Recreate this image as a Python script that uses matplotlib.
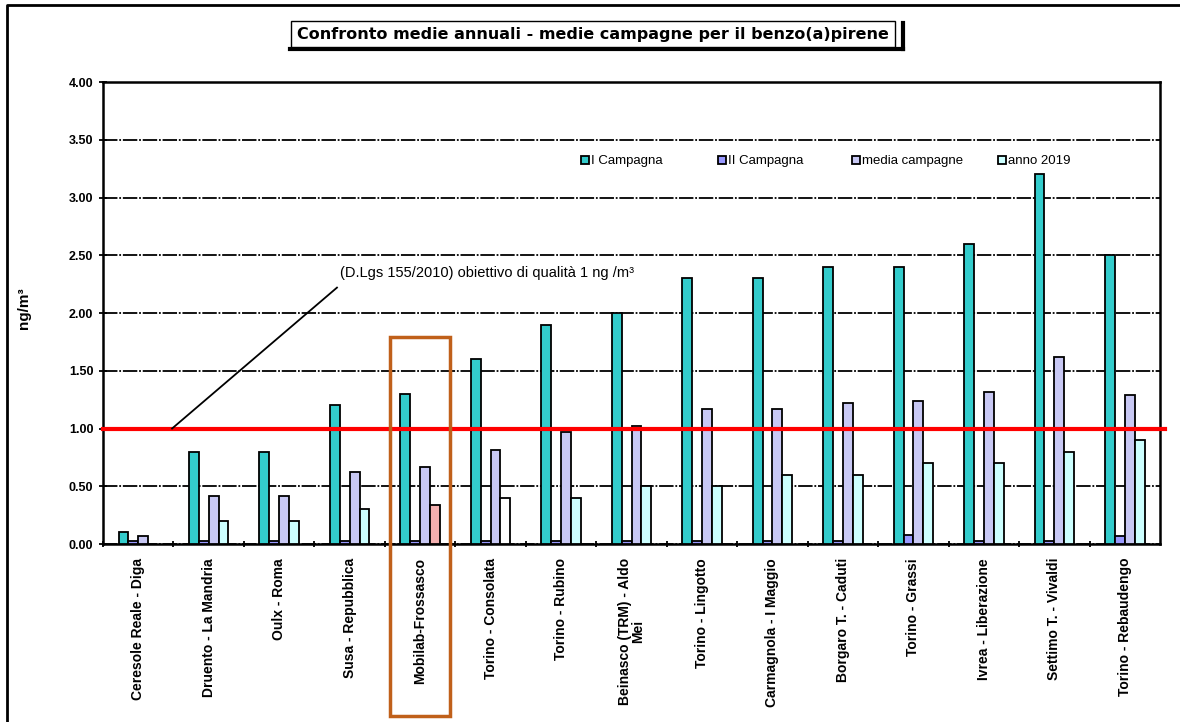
import numpy as np
import matplotlib
matplotlib.use('Agg')
import matplotlib.pyplot as plt
from matplotlib.patches import Rectangle, Patch
from matplotlib.lines import Line2D
from matplotlib.legend import Legend

plt.rcParams['font.family'] = ['Liberation Sans', 'DejaVu Sans']

# stazioni e valori (ng/m3)
stazioni = ['Ceresole Reale - Diga', 'Druento - La Mandria', 'Oulx - Roma', 'Susa - Repubblica',
            'Mobilab-Frossasco', 'Torino - Consolata', 'Torino - Rubino',
            'Beinasco (TRM) - Aldo\nMei', 'Torino - Lingotto', 'Carmagnola - I Maggio',
            'Borgaro T. - Caduti', 'Torino - Grassi', 'Ivrea - Liberazione',
            'Settimo T. - Vivaldi', 'Torino - Rebaudengo']
camp1 = [0.10, 0.80, 0.80, 1.20, 1.30, 1.60, 1.90, 2.00, 2.30, 2.30, 2.40, 2.40, 2.60, 3.20, 2.50]
camp2 = [0.03, 0.03, 0.03, 0.03, 0.03, 0.03, 0.03, 0.03, 0.03, 0.03, 0.03, 0.08, 0.03, 0.03, 0.07]
media = [0.07, 0.42, 0.42, 0.62, 0.67, 0.81, 0.97, 1.02, 1.17, 1.17, 1.22, 1.24, 1.32, 1.62, 1.29]
anno2019 = [np.nan, 0.20, 0.20, 0.30, 0.34, 0.40, 0.40, 0.50, 0.50, 0.60, 0.60, 0.70, 0.70, 0.80, 0.90]
serie = ['I Campagna', 'II Campagna', 'media campagne', 'anno 2019']
colori = ['#33CCCC', '#9999FF', '#C8C8F4', '#CCFFFF']
obiettivo = 1.0

fig = plt.figure(figsize=(11.8, 7.22), dpi=100)
ax = fig.add_axes([0.0873, 0.2465, 0.8958, 0.6399])

x = np.arange(len(stazioni))
w = 0.14
for k, (vals, c) in enumerate(zip([camp1, camp2, media, anno2019], colori)):
    cols = [c] * len(vals)
    if k == 3:
        cols[4] = '#F4B0B0'   # Mobilab evidenziato
        cols[5] = 'white'     # Consolata
    ax.bar(x + (k - 1.5) * w, vals, w, color=cols, edgecolor='black', linewidth=1.3, zorder=3)

ax.set_xlim(-0.5, len(stazioni) - 0.5)
ax.set_ylim(0, 4)
yt = np.arange(0, 4.01, 0.5)
ax.set_yticks(yt)
ax.set_yticklabels(['%.2f' % v for v in yt], fontsize=9, fontweight='bold')
ax.yaxis.grid(True, color='black', linestyle=(0, (8, 1, 1, 1)), linewidth=1.3, zorder=0)
ax.set_axisbelow(True)
ax.set_xticks(x - 0.5)
ax.set_xticklabels([])
ax.set_xticks(x, minor=True)
ax.set_xticklabels(stazioni, minor=True, rotation=90, fontsize=10, fontweight='bold',
                   va='top', ha='center', linespacing=1.0)
ax.tick_params(axis='x', which='minor', length=0, pad=10)
ax.tick_params(axis='x', which='major', length=4, width=1.3, direction='inout')
ax.tick_params(axis='y', length=6, width=1.3, direction='inout', pad=4)
for s in ['left', 'bottom', 'top', 'right']:
    ax.spines[s].set_linewidth(1.8)

ax.set_ylabel('ng/m³', fontsize=11, fontweight='bold')
ax.yaxis.set_label_coords(-0.068, 0.51)

# linea obiettivo
ax.add_line(Line2D([-0.5, 14.57], [obiettivo, obiettivo], color='#FF0000', linewidth=3,
                   zorder=4, clip_on=False))
ax.plot([0.48, 2.82], [obiettivo, 2.22], color='black', linewidth=1.3, zorder=5)
ax.text(2.86, 2.35, '(D.Lgs 155/2010) obiettivo di qualità 1 ng /m³', fontsize=10.5,
        ha='left', va='center', zorder=5)

# legenda: una voce per colonna, posizioni come nell'originale
leg_x = [0.452, 0.582, 0.709, 0.847]
for lx, c, s in zip(leg_x, colori, serie):
    lg = Legend(ax, [Patch(facecolor=c, edgecolor='black', linewidth=1.3)], [s],
                loc='center left', bbox_to_anchor=(lx, 0.828), frameon=False,
                fontsize=9.5, handlelength=0.6, handleheight=0.6, handletextpad=0.15,
                borderpad=0, borderaxespad=0)
    ax.add_artist(lg)

# riquadro Mobilab
fig.add_artist(Rectangle((390 / 1180, 1 - 716 / 722), 60 / 1180, 379 / 722,
                         transform=fig.transFigure, fill=False, edgecolor='#C0601A',
                         linewidth=2.5, zorder=10))

# titolo con ombra
fig.text(593 / 1180, 1 - 34 / 722, 'Confronto medie annuali - medie campagne per il benzo(a)pirene',
         fontsize=11.5, fontweight='bold', ha='center', va='center', family='DejaVu Sans',
         bbox=dict(boxstyle='square,pad=0.35', facecolor='white', edgecolor='black', linewidth=1))
fig.add_artist(Line2D([290 / 1180, 903 / 1180], [1 - 49 / 722, 1 - 49 / 722],
                      transform=fig.transFigure, color='black', linewidth=3))
fig.add_artist(Line2D([903 / 1180, 903 / 1180], [1 - 49 / 722, 1 - 23 / 722],
                      transform=fig.transFigure, color='black', linewidth=3))

# cornice
fig.add_artist(Line2D([7 / 1180, 7 / 1180, 1], [0.002, 1 - 5 / 722, 1 - 5 / 722],
                      transform=fig.transFigure, color='black', linewidth=2))

fig.savefig('out.png', dpi=100)
